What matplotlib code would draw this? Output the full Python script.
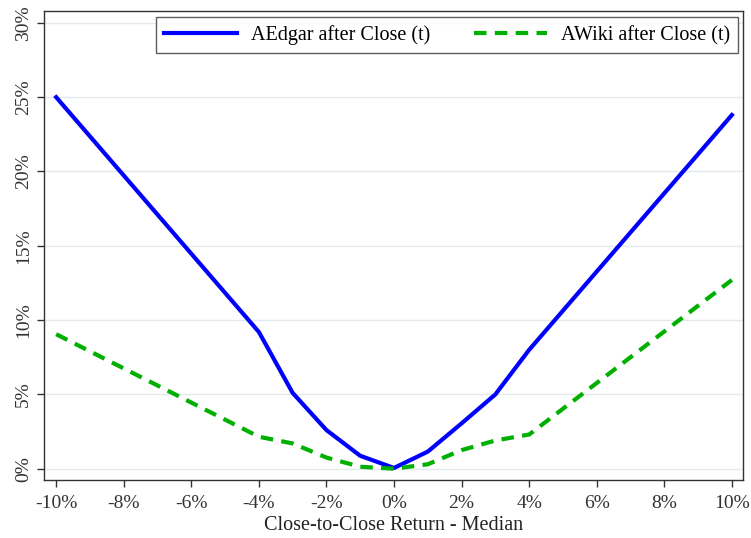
import matplotlib
matplotlib.use("Agg")
from matplotlib import pyplot as plt
from matplotlib.ticker import FuncFormatter

# ******* data *******
ret = [-10, -4, -3, -2, -1, 0, 1, 2, 3, 4, 10]
edgar = [25.0, 9.2, 5.1, 2.6, 0.87, 0.05, 1.15, 3.05, 5.0, 8.0, 23.8]
wiki = [9.05, 2.15, 1.7, 0.75, 0.13, 0.0, 0.3, 1.25, 1.9, 2.3, 12.7]
xticks = [-10, -8, -6, -4, -2, 0, 2, 4, 6, 8, 10]
yticks = [0, 5, 10, 15, 20, 25, 30]

plt.rcParams["font.family"] = ["Liberation Serif", "DejaVu Serif"]
plt.rcParams["font.size"] = 14

fig = plt.figure(figsize=(7.51, 5.38), dpi=100)
ax = fig.add_axes([44/751, 1-480/538, (743-44)/751, (480-11)/538])

ax.plot(ret, edgar, color="#0000ff", lw=3, label="AEdgar after Close (t)")
ax.plot(ret, wiki, color="#00b000", lw=3, ls=(0, (3, 2)), label="AWiki after Close (t)")

ax.set_xlim(-10.36, 10.33)
ax.set_ylim(-0.76, 30.8)
ax.set_xticks(xticks)
ax.set_yticks(yticks)
pct = FuncFormatter(lambda v, p: "%d%%" % v)
ax.xaxis.set_major_formatter(pct)
ax.yaxis.set_major_formatter(pct)
for lab in ax.get_yticklabels():
    lab.set_rotation(90)
    lab.set_va("center")
ax.tick_params(direction="out", length=5, width=1, color="#333333", labelcolor="#333333", labelsize=14)
ax.tick_params(axis="x", pad=6)
ax.yaxis.grid(True, color="#e3eaee", lw=1)
ax.set_axisbelow(True)
for s in ax.spines.values():
    s.set_color("#333333")
    s.set_linewidth(1)

ax.set_xlabel("Close-to-Close Return - Median", fontsize=14.5, color="#222222", labelpad=3)

leg = ax.legend(loc="upper right", ncol=2, frameon=True, fancybox=False,
                edgecolor="#333333", handlelength=3.6, handletextpad=0.7, columnspacing=2.2,
                borderpad=0.4, borderaxespad=0, bbox_to_anchor=(0.993, 0.987), fontsize=14.5)
leg.get_frame().set_linewidth(1)

fig.savefig("out.png", dpi=100)
